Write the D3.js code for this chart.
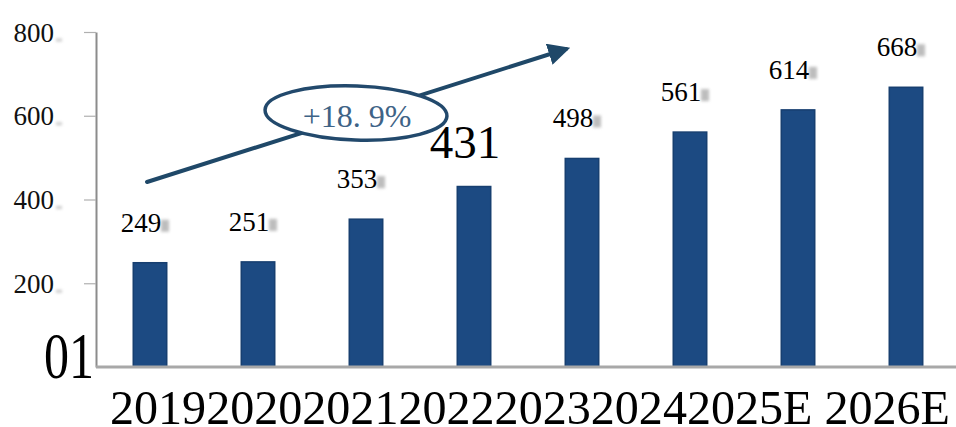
<!DOCTYPE html>
<html>
<head>
<meta charset="utf-8">
<script src="https://cdn.jsdelivr.net/npm/d3@7/dist/d3.min.js"></script>
<style>
  html, body { margin: 0; padding: 0; background: #ffffff; }
  svg { display: block; }
</style>
</head>
<body>
<svg id="chart" width="956" height="427"></svg>
<script>
// Market size by year (2025E / 2026E are estimates)
const categories = ["2019", "2020", "2021", "2022", "2023", "2024", "2025E", "2026E"];
const values = [249, 251, 353, 431, 498, 561, 614, 668];
const yTicks = [200, 400, 600, 800];
const zeroLabel = "01";
const growthLabel = "+18. 9%";
const highlighted = "2022";

const SERIF = "'Liberation Serif', 'Times New Roman', Times, serif";

const svg = d3.select("#chart").style("font-family", SERIF);
const W = 956, H = 427;

const defs = svg.append("defs");
defs.append("filter").attr("id", "smudge")
  .attr("x", "-50%").attr("y", "-100%").attr("width", "200%").attr("height", "300%")
  .append("feGaussianBlur").attr("stdDeviation", 1.6);
defs.append("marker").attr("id", "arrowhead")
  .attr("viewBox", "0 0 10 10").attr("refX", 8).attr("refY", 5)
  .attr("markerWidth", 5.5).attr("markerHeight", 5.5)
  .attr("markerUnits", "strokeWidth").attr("orient", "auto")
  .append("path").attr("d", "M0,0 L10,5 L0,10 Z").attr("fill", "#1f4868");

const axisX = 96, baseY = 367;

const x = d3.scaleBand()
  .domain(categories)
  .range([axisX, 960])
  .paddingInner(0.69)
  .paddingOuter(0.345);

const y = d3.scaleLinear().domain([0, 800]).range([baseY, 32]);

// Bars
svg.append("g").selectAll("rect")
  .data(values)
  .join("rect")
  .attr("x", (d, i) => x(categories[i]))
  .attr("y", d => y(d))
  .attr("width", x.bandwidth())
  .attr("height", d => y(0) - y(d))
  .attr("fill", "#1c4a82")
  .attr("stroke", "#173f70")
  .attr("stroke-width", 1.5);

// Y axis
const yAxis = svg.append("g")
  .attr("transform", `translate(${axisX},0)`)
  .call(d3.axisLeft(y).tickValues(yTicks).tickSize(12).tickPadding(30).tickSizeOuter(0));
yAxis.attr("font-family", null).style("font-family", SERIF);
yAxis.select(".domain").attr("stroke", "#8c8c8c").attr("stroke-width", 2);
yAxis.selectAll(".tick line").attr("stroke", "#b0b0b0").attr("stroke-width", 1.2);
yAxis.selectAll(".tick text")
  .style("font-family", SERIF)
  .attr("font-size", 27).attr("fill", "#111").attr("dy", "0.34em");
// faint grey smear trailing each tick label
yAxis.selectAll(".tick").append("rect")
  .attr("x", -40).attr("y", 6).attr("width", 6).attr("height", 3)
  .attr("fill", "#999").attr("opacity", 0.5).attr("filter", "url(#smudge)");

// Baseline
svg.append("line")
  .attr("x1", axisX).attr("x2", W)
  .attr("y1", y(0)).attr("y2", y(0))
  .attr("stroke", "#a8a8a8").attr("stroke-width", 3);

// Zero label at the origin
svg.append("text")
  .attr("x", axisX - 2).attr("y", y(0) + 11)
  .attr("text-anchor", "end")
  .style("font-family", SERIF)
  .attr("font-size", 66).attr("fill", "#000")
  .attr("textLength", 50).attr("lengthAdjust", "spacingAndGlyphs")
  .text(zeroLabel);

// Category labels run together as one line beneath the axis
const xl = svg.append("text")
  .attr("x", 110).attr("y", 424)
  .style("font-family", SERIF)
  .attr("font-size", 48).attr("fill", "#000")
  .style("white-space", "pre")
  .attr("textLength", 840).attr("lengthAdjust", "spacingAndGlyphs");
xl.selectAll("tspan")
  .data(categories)
  .join("tspan")
  .text((d, i) => (i > 0 && categories[i - 1].endsWith("E") ? " " : "") + d);

// Value labels, each with a soft grey smear to its right
const lx = (d, i) => x(categories[i]) + x.bandwidth() / 2 - 9;
const ly = (d, i) => y(d) - (categories[i] === highlighted ? 29 : 31);
const lsize = (d, i) => categories[i] === highlighted ? 47 : 27;
const labels = svg.append("g");
labels.selectAll("rect.smear")
  .data(values.filter((d, i) => categories[i] !== highlighted))
  .join("rect")
  .attr("class", "smear")
  .attr("x", d => lx(d, values.indexOf(d)) + 20)
  .attr("y", d => ly(d, values.indexOf(d)) - 12)
  .attr("width", 8).attr("height", 12)
  .attr("fill", "#888").attr("opacity", 0.55)
  .attr("filter", "url(#smudge)");
labels.selectAll("text.value")
  .data(values)
  .join("text")
  .attr("class", "value")
  .attr("x", lx).attr("y", ly)
  .attr("text-anchor", "middle")
  .style("font-family", SERIF)
  .attr("font-size", lsize)
  .attr("fill", "#000")
  .text(d => d);

// Growth arrow with the CAGR callout
svg.append("line")
  .attr("x1", 147).attr("y1", 182)
  .attr("x2", 566).attr("y2", 49)
  .attr("stroke", "#1f4868").attr("stroke-width", 4)
  .attr("stroke-linecap", "round")
  .attr("marker-end", "url(#arrowhead)");

svg.append("ellipse")
  .attr("cx", 356).attr("cy", 113)
  .attr("rx", 91).attr("ry", 27)
  .attr("transform", "rotate(2 356 113)")
  .attr("fill", "#ffffff")
  .attr("stroke", "#22496c").attr("stroke-width", 3.5);

svg.append("text")
  .attr("x", 357).attr("y", 127)
  .attr("text-anchor", "middle")
  .style("font-family", SERIF)
  .attr("font-size", 32).attr("fill", "#3e6386")
  .style("white-space", "pre")
  .text(growthLabel);
</script>
</body>
</html>
